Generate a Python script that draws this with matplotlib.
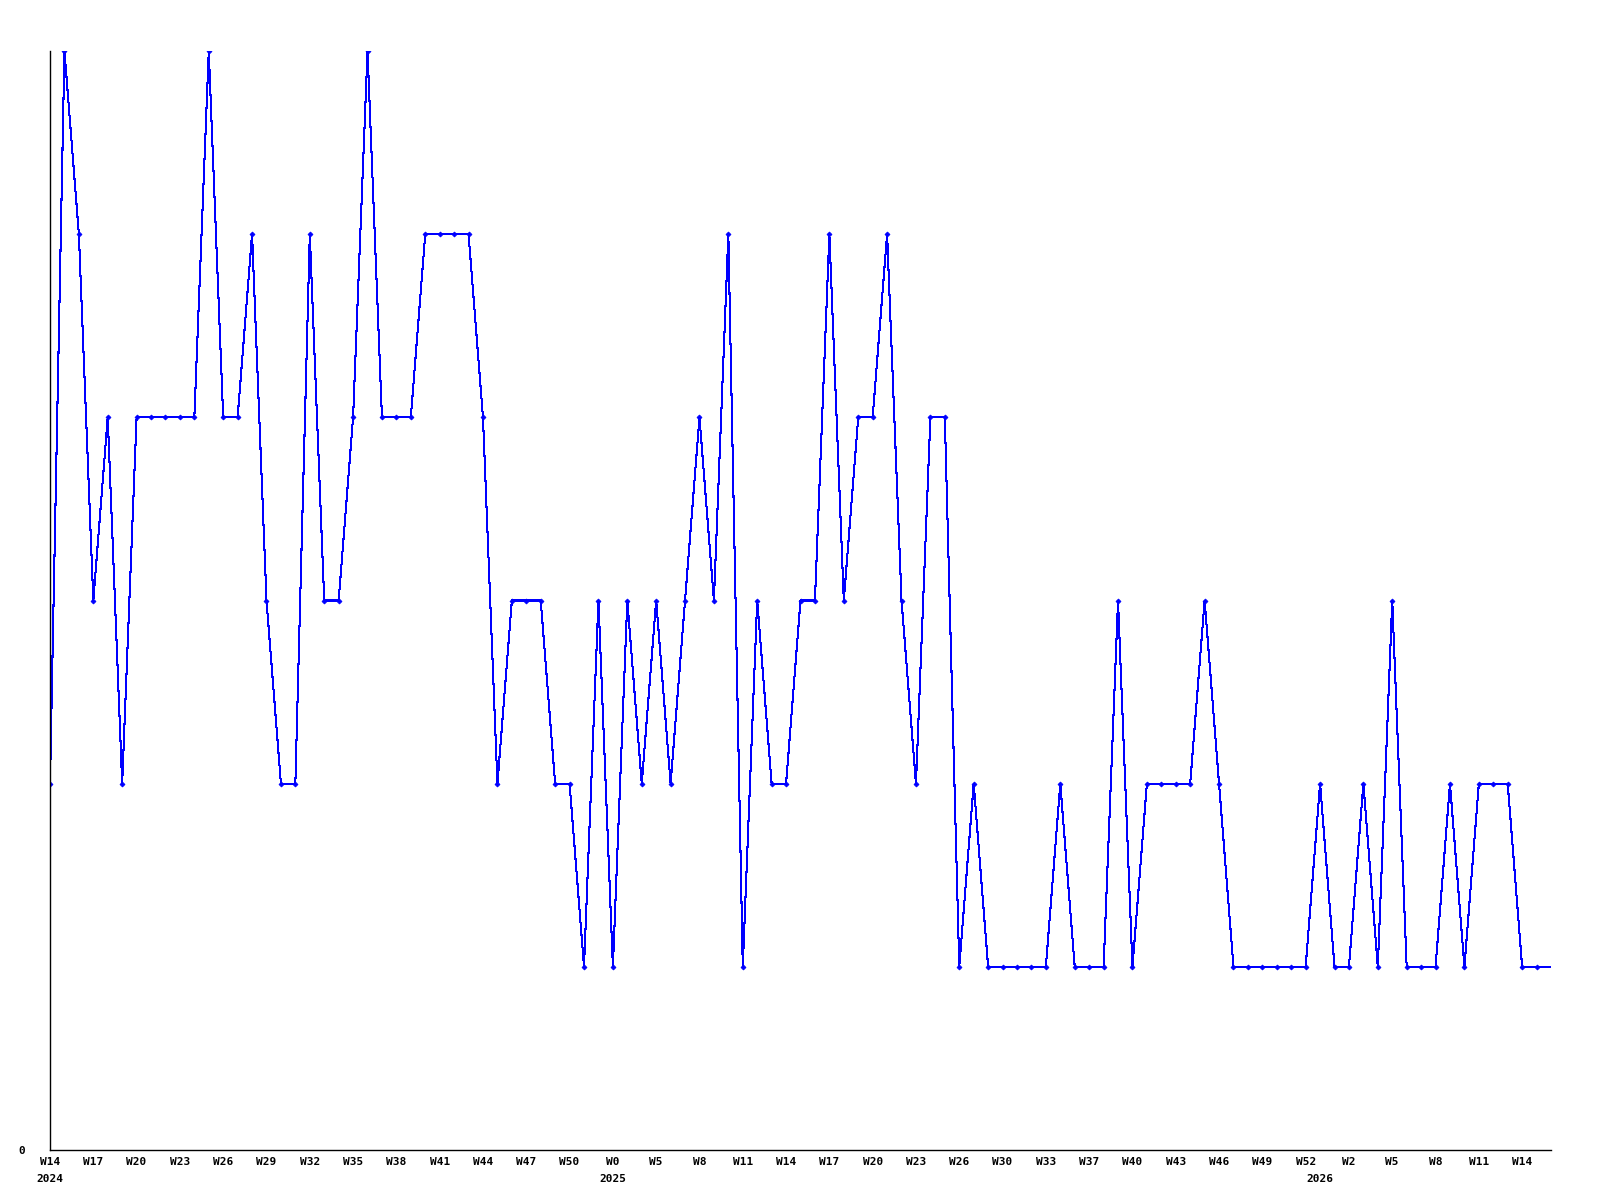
import numpy as np
import matplotlib
matplotlib.use("Agg")
from matplotlib import pyplot as plt

# weekly counts, one per week (last entry is the running week, drawn without a marker)
counts = [2, 6, 5, 3, 4, 2, 4, 4, 4, 4, 4, 6, 4, 4, 5, 3, 2, 2, 5, 3,
          3, 4, 6, 4, 4, 4, 5, 5, 5, 5, 4, 2, 3, 3, 3, 2, 2, 1, 3, 1,
          3, 2, 3, 2, 3, 4, 3, 5, 1, 3, 2, 2, 3, 3, 5, 3, 4, 4, 5, 3,
          2, 4, 4, 1, 2, 1, 1, 1, 1, 1, 2, 1, 1, 1, 3, 1, 2, 2, 2, 2,
          3, 2, 1, 1, 1, 1, 1, 1, 2, 1, 1, 2, 1, 3, 1, 1, 1, 2, 1, 2,
          2, 2, 1, 1]
current = 1

week_labels = ["W14", "W17", "W20", "W23", "W26", "W29", "W32", "W35", "W38",
               "W41", "W44", "W47", "W50", "W0", "W5", "W8", "W11", "W14",
               "W17", "W20", "W23", "W26", "W30", "W33", "W37", "W40", "W43",
               "W46", "W49", "W52", "W2", "W5", "W8", "W11", "W14"]
years = ["2024", "2025", "2026"]
year_pos = [0, 39, 88]

font = {"family": "DejaVu Sans Mono", "weight": "bold", "size": 8}

fig = plt.figure(figsize=(16, 12), dpi=100)
ax = fig.add_axes([50 / 1600, 50 / 1200, 1501 / 1600, 1099 / 1200])

x = np.arange(len(counts))
ax.plot(np.append(x, len(counts)), counts + [current], color="#0000ff",
        lw=0.75, antialiased=False)
ax.plot(x, counts, ls="none", marker="D", ms=2.5, color="#0000ff",
        markeredgewidth=0.6)

ax.set_xlim(0, len(counts))
ax.set_ylim(0, max(counts))

# year labels sit on minor ticks, some share a spot with a week tick
ax.xaxis.remove_overlapping_locs = False
ax.set_xticks(np.arange(0, 3 * len(week_labels), 3))
ax.set_xticklabels(week_labels, fontdict=font)
ax.set_xticks(year_pos, minor=True)
ax.set_xticklabels(years, minor=True, fontdict=font)
ax.tick_params(axis="x", which="major", length=0, pad=5)
ax.tick_params(axis="x", which="minor", length=0, pad=17)

ax.set_yticks([0])
ax.set_yticklabels(["0"], fontdict=font)
ax.tick_params(axis="y", length=0, pad=18)

for s in ["top", "right"]:
    ax.spines[s].set_visible(False)
for s in ["left", "bottom"]:
    ax.spines[s].set_linewidth(1.0)

plt.savefig("out.png", dpi=100)
